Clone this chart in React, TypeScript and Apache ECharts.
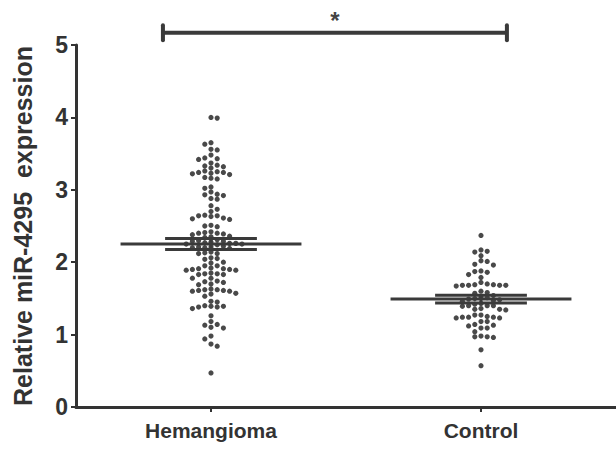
import React, { useEffect, useRef } from "react";
import * as echarts from "echarts";

const categories = ["Hemangioma", "Control"];
const yTickValues = [0, 1, 2, 3, 4, 5];
const yAxisTitle = "Relative miR-4295  expression";

const hemangioma = [
  4.0, 3.99,
  3.65, 3.63,
  3.56, 3.55,
  3.48,
  3.44, 3.43, 3.42,
  3.37,
  3.34, 3.33, 3.32,
  3.3,
  3.26, 3.25, 3.24, 3.24, 3.23, 3.22, 3.21,
  3.17, 3.16, 3.15,
  3.04, 3.02,
  2.97,
  2.94, 2.93, 2.92,
  2.88, 2.87,
  2.78,
  2.73,
  2.7,
  2.65, 2.64, 2.64, 2.63,
  2.61, 2.6, 2.59,
  2.51, 2.5, 2.49,
  2.42, 2.41, 2.4, 2.4, 2.39, 2.38,
  2.36, 2.35, 2.34,
  2.31, 2.3, 2.29, 2.29, 2.28,
  2.27, 2.26, 2.26, 2.25, 2.25, 2.24,
  2.22, 2.21, 2.21, 2.2, 2.2, 2.19,
  2.14, 2.13, 2.12, 2.12,
  2.06, 2.05, 2.04,
  2.0, 1.99,
  1.95, 1.95,
  1.92, 1.91, 1.91, 1.9, 1.9, 1.89, 1.89,
  1.85, 1.84, 1.84, 1.83, 1.83,
  1.78, 1.78,
  1.74, 1.73, 1.72,
  1.7, 1.69,
  1.63, 1.62, 1.62, 1.61, 1.61, 1.6, 1.6,
  1.57, 1.56,
  1.53,
  1.46, 1.45,
  1.4, 1.39, 1.39, 1.38, 1.38,
  1.36,
  1.26,
  1.18,
  1.14, 1.13,
  1.1, 1.09,
  0.98,
  0.94,
  0.87,
  0.84,
  0.47,
];

const control = [
  2.37,
  2.17, 2.15, 2.14,
  2.09,
  2.02, 2.01,
  1.97, 1.96,
  1.88, 1.87, 1.86,
  1.83,
  1.79,
  1.72,
  1.69, 1.68, 1.68, 1.68, 1.67, 1.68, 1.69, 1.7,
  1.6, 1.58, 1.57,
  1.54, 1.52, 1.51, 1.5, 1.49, 1.48, 1.47, 1.46,
  1.43, 1.42,
  1.4, 1.4, 1.4, 1.39,
  1.36, 1.35, 1.35, 1.34,
  1.27, 1.27,
  1.25, 1.24, 1.24, 1.24, 1.23, 1.23,
  1.18, 1.18,
  1.14, 1.13, 1.12,
  1.09, 1.09,
  1.04,
  0.98, 0.97, 0.97, 0.96,
  0.79,
  0.57,
];

const groupMeans = [2.25, 1.49];
const groupSems = [0.076, 0.055];
const significanceLabel = "*";

// layout constants
const W = 616;
const H = 449;
const GRID = { left: 76, right: 0, top: 45, bottom: 42 };
const DOT_PX = 6.2; // horizontal column spacing
const DOT_SIZE = 5.2;
const COLLIDE_PX = 4.6;
const DARK = "#333333";
const FONT = "'Liberation Sans', Arial, Helvetica, sans-serif";

function swarm(values: number[], center: number, pxPerY: number, xUnitsPerCol: number) {
  const order = values.map((_, i) => i).sort((a, b) => values[b] - values[a]);
  const placed: { col: number; y: number }[] = [];
  const out: number[][] = [];
  let flip = 1;
  for (const i of order) {
    const ypx = values[i] * pxPerY;
    let chosen = 0;
    for (let k = 0; k < 60; k++) {
      const mag = Math.ceil(k / 2);
      const col = k === 0 ? 0 : k % 2 === 1 ? mag * flip : -mag * flip;
      const clash = placed.some((p) => p.col === col && Math.abs(p.y - ypx) < COLLIDE_PX);
      if (!clash) {
        chosen = col;
        break;
      }
    }
    if (chosen !== 0) flip = -flip;
    placed.push({ col: chosen, y: ypx });
    out.push([center + chosen * xUnitsPerCol, values[i]]);
  }
  return out;
}

export default function App() {
  const ref = useRef<HTMLDivElement>(null);
  useEffect(() => {
    if (!ref.current) return;
    const chart = echarts.init(ref.current, null, { renderer: "svg" });
    const plotH = H - GRID.top - GRID.bottom;
    const plotW = W - GRID.left - GRID.right;
    const yMin = yTickValues[0];
    const yMax = yTickValues[yTickValues.length - 1];
    const pxPerY = plotH / (yMax - yMin);
    const pxPerX = plotW / categories.length; // value axis spans -0.5..1.5
    const xUnitsPerCol = DOT_PX / pxPerX;

    const groups = [hemangioma, control];
    const scatterSeries = groups.map((vals, gi) => ({
      type: "scatter",
      name: categories[gi],
      xAxisIndex: 1,
      yAxisIndex: 0,
      symbol: "circle",
      symbolSize: DOT_SIZE,
      itemStyle: { color: "#1c1c1c" },
      data: swarm(vals, gi, pxPerY, xUnitsPerCol),
      z: 2,
    }));

    const statsData = groupMeans.map((m, i) => [i, m, groupSems[i]]);

    chart.setOption({
      animation: false,
      grid: { ...GRID, containLabel: false },
      xAxis: [
        {
          type: "category",
          data: categories,
          boundaryGap: true,
          axisLine: { show: true, onZero: false, lineStyle: { color: DARK, width: 3 } },
          axisTick: { show: true, alignWithLabel: true, length: 5, lineStyle: { color: DARK, width: 2 } },
          axisLabel: { color: DARK, fontSize: 21, fontWeight: "bold", fontFamily: FONT, margin: 13 },
          splitLine: { show: false },
        },
        {
          type: "value",
          min: -0.5,
          max: 1.5,
          show: false,
          axisLine: { show: false, onZero: false },
          splitLine: { show: false },
        },
      ],
      yAxis: {
        type: "value",
        min: yMin,
        max: yMax,
        interval: 1,
        name: yAxisTitle,
        nameLocation: "middle",
        nameGap: 41,
        nameTextStyle: { color: DARK, fontSize: 25, fontWeight: "bold", fontFamily: FONT },
        axisLine: { show: true, onZero: false, lineStyle: { color: DARK, width: 3 } },
        axisTick: { show: true, length: 5, lineStyle: { color: DARK, width: 2 } },
        axisLabel: { color: DARK, fontSize: 23, fontWeight: "bold", fontFamily: FONT, margin: 8 },
        splitLine: { show: false },
      },
      series: [
        ...scatterSeries,
        {
          type: "custom",
          xAxisIndex: 1,
          yAxisIndex: 0,
          z: 5,
          clip: false,
          data: statsData,
          renderItem: (params: any, api: any) => {
            const gi = api.value(0);
            const m = api.value(1);
            const s = api.value(2);
            const meanHalf = 0.335;
            const semHalf = 0.17;
            const a = api.coord([gi - meanHalf, m]);
            const b = api.coord([gi + meanHalf, m]);
            const t1 = api.coord([gi - semHalf, m + s]);
            const t2 = api.coord([gi + semHalf, m + s]);
            const b1 = api.coord([gi - semHalf, m - s]);
            const b2 = api.coord([gi + semHalf, m - s]);
            const style = { stroke: "#3a3a3a", lineWidth: 3 };
            return {
              type: "group",
              children: [
                { type: "line", shape: { x1: a[0], y1: a[1], x2: b[0], y2: b[1] }, style },
                { type: "line", shape: { x1: t1[0], y1: t1[1], x2: t2[0], y2: t2[1] }, style },
                { type: "line", shape: { x1: b1[0], y1: b1[1], x2: b2[0], y2: b2[1] }, style },
                {
                  type: "line",
                  shape: { x1: (t1[0] + t2[0]) / 2, y1: t1[1], x2: (b1[0] + b2[0]) / 2, y2: b1[1] },
                  style,
                },
              ],
            };
          },
        },
        {
          type: "custom",
          xAxisIndex: 1,
          yAxisIndex: 0,
          z: 5,
          clip: false,
          data: [[-0.178, 1.096, 5.17]],
          renderItem: (params: any, api: any) => {
            const p1 = api.coord([api.value(0), api.value(2)]);
            const p2 = api.coord([api.value(1), api.value(2)]);
            const style = { stroke: "#3a3a3a", lineWidth: 4 };
            const capH = 7.5;
            return {
              type: "group",
              children: [
                { type: "line", shape: { x1: p1[0], y1: p1[1], x2: p2[0], y2: p2[1] }, style },
                { type: "line", shape: { x1: p1[0], y1: p1[1] - capH, x2: p1[0], y2: p1[1] + capH }, style: { ...style, lineCap: "round" } },
                { type: "line", shape: { x1: p2[0], y1: p2[1] - capH, x2: p2[0], y2: p2[1] + capH }, style: { ...style, lineCap: "round" } },
                {
                  type: "text",
                  style: {
                    text: significanceLabel,
                    x: (p1[0] + p2[0]) / 2,
                    y: p1[1] - 12,
                    align: "center",
                    verticalAlign: "middle",
                    fontSize: 24,
                    fontWeight: "bold",
                    fontFamily: FONT,
                    fill: "#444",
                  },
                },
              ],
            };
          },
        },
      ],
    });
    return () => chart.dispose();
  }, []);
  return (
    <div
      ref={ref}
      style={{ position: "fixed", left: 0, top: 0, width: W, height: H, background: "#fff" }}
    />
  );
}
